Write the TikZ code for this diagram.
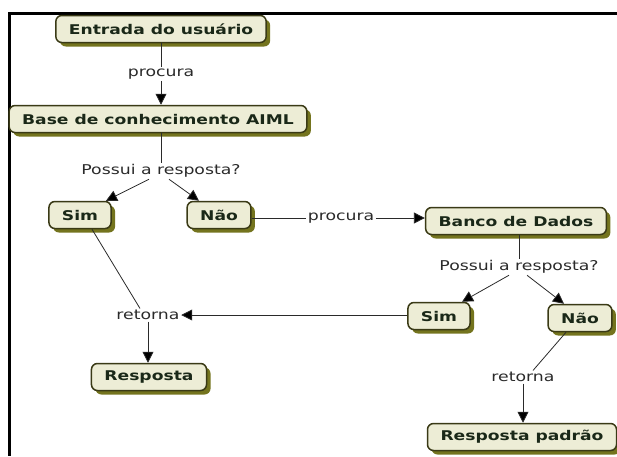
\documentclass[tikz,border=0pt]{standalone}
\usepackage{fontspec}
\setmainfont[FakeStretch=1.28]{DejaVu Sans}
\usetikzlibrary{shadows,arrows.meta}
\definecolor{boxfill}{HTML}{EDEDD6}
\definecolor{boxdraw}{HTML}{3A3A16}
\definecolor{boxshadow}{HTML}{74741E}
\definecolor{boxtext}{HTML}{1A2818}
\definecolor{linkc}{HTML}{2A2A2A}
\tikzset{
  concept/.style={draw=boxdraw, line width=1.5pt, fill=boxfill, rounded corners=6pt,
    minimum height=27pt, inner xsep=13pt, text=boxtext,
    font=\fontsize{13.4}{15}\selectfont\bfseries,
    drop shadow={shadow xshift=4pt, shadow yshift=-4pt, fill=boxshadow, opacity=1}},
  lbl/.style={inner sep=1.5pt, text=linkc, font=\fontsize{13.5}{15}\selectfont},
  link/.style={draw=linkc, line width=0.8pt},
  arr/.style={link, -{Triangle[length=11pt,width=11pt,fill=black]}},
}
\begin{document}
\begin{tikzpicture}[x=1pt,y=-1pt]
\useasboundingbox (0,0) rectangle (617,456);
\draw[line width=3pt] (617,13.5) -- (9.5,13.5) -- (9.5,456);

\node[concept] (entrada) at (161,29) {Entrada do usuário};
\node[lbl] (procura1) at (161,74) {procura};
\node[concept] (base) at (158,119) {Base de conhecimento AIML};
\node[lbl] (possui1) at (161,171) {Possui a resposta?};
\node[concept] (sim1) at (80,215) {Sim};
\node[concept] (nao1) at (219,215) {Não};
\node[lbl] (procura2) at (341,218) {procura};
\node[concept] (banco) at (516,221) {Banco de Dados};
\node[lbl] (possui2) at (519,267) {Possui a resposta?};
\node[concept] (sim2) at (439,316) {Sim};
\node[concept] (nao2) at (580,318) {Não};
\node[lbl] (retorna1) at (148,315) {retorna};
\node[concept] (resposta) at (149,377) {Resposta};
\node[lbl] (retorna2) at (523,377) {retorna};
\node[concept] (padrao) at (522,437) {Resposta padrão};

\draw[link] (entrada.south -| procura1) -- (procura1);
\draw[arr] (procura1) -- (procura1 |- base.north);
\draw[link] (base.south -| possui1) -- (possui1);
\draw[arr] ([xshift=-12pt]possui1.south) -- ([xshift=26pt]sim1.north);
\draw[arr] ([xshift=8pt]possui1.south) -- ([xshift=-20pt]nao1.north);
\draw[link] (nao1.east |- procura2) -- (procura2.west);
\draw[arr] (procura2.east) -- (procura2.east -| banco.west);
\draw[link] (banco.south -| possui2) -- (possui2);
\draw[arr] ([xshift=-10pt]possui2.south) -- ([xshift=23pt]sim2.north);
\draw[arr] ([xshift=8pt]possui2.south) -- ([xshift=-16pt]nao2.north);
\draw[link] ([xshift=12pt]sim1.south) -- ([xshift=-8pt]retorna1.north);
\draw[arr] (sim2.west |- retorna1) -- (retorna1.east);
\draw[arr] (retorna1) -- (retorna1 |- resposta.north);
\draw[link] ([xshift=-14pt]nao2.south) -- ([xshift=10pt]retorna2.north);
\draw[arr] (retorna2) -- (retorna2 |- padrao.north);
\end{tikzpicture}
\end{document}
